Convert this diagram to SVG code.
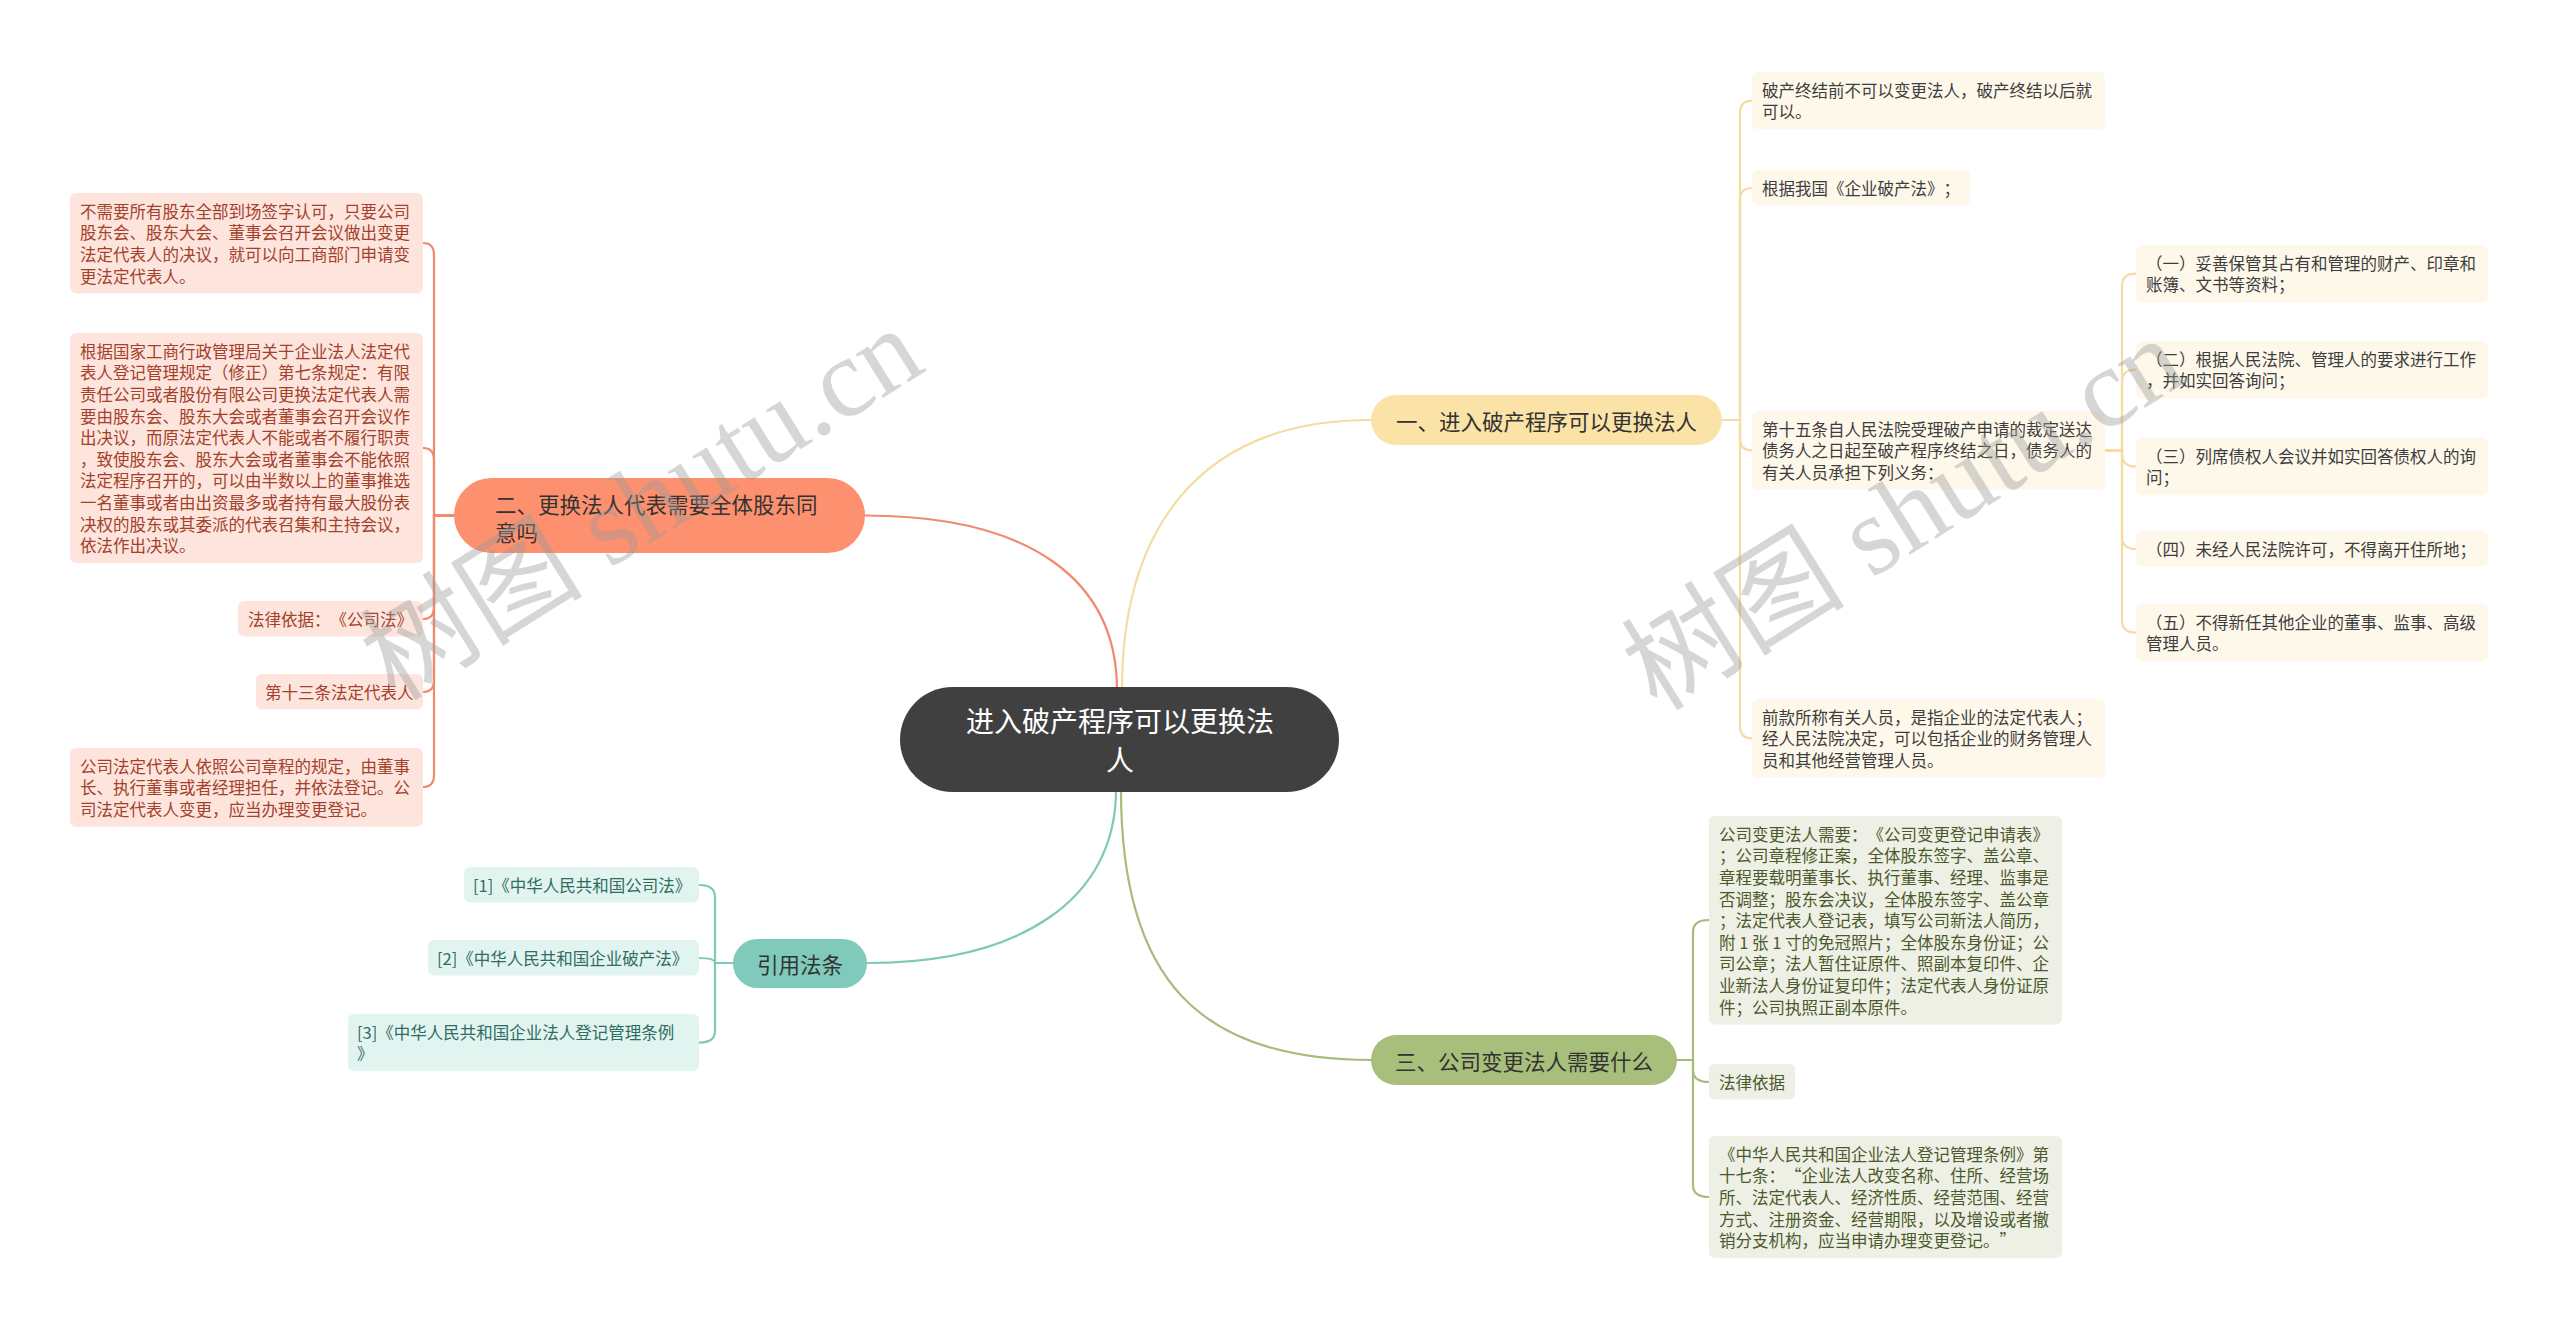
<svg xmlns="http://www.w3.org/2000/svg" width="2560" height="1333" viewBox="0 0 2560 1333">
<style>
text{font-family:"Noto Sans CJK SC","Noto Sans",sans-serif;dominant-baseline:central;text-spacing-trim:space-all}
.lf{font-size:16.5px}
.br{font-size:21.5px;fill:#333}
.c{fill:none;stroke-width:2.2;stroke-linecap:round}
.o{stroke:#ef8b6c}.y{stroke:#f4dca2}.t{stroke:#7fc9b9}.g{stroke:#a6bd7a}
.ob{fill:#fde5dd}.ot{fill:#a3412c}
.yb{fill:#fdf8ea}.yt{fill:#3d3d3d}
.tb{fill:#e2f4f0}.tt{fill:#2e6d60}
.gb{fill:#eef0e5}.gt{fill:#4b5a2c}
.wm{font-family:"Liberation Serif","Noto Sans CJK SC",serif;font-size:112px;fill:#9a9a9a;opacity:0.4;dominant-baseline:auto}
</style>
<rect width="2560" height="1333" fill="#ffffff"/>
<g id="connectors">
<path class="c y" d="M1122 690 C1122 540 1190 420 1371 420"/>
<path class="c o" d="M1117 690 C1117 580 1030 515.5 865 515.5"/>
<path class="c t" d="M1116 790 C1116 900 1020 963 867 963"/>
<path class="c g" d="M1121 790 C1121 980 1200 1060 1371 1060"/>
<path class="c o" d="M454 515.5 H434 V255 Q434 243 423 243"/>
<path class="c o" d="M454 515.5 H434 V460 Q434 448 423 448"/>
<path class="c o" d="M454 515.5 H434 V607 Q434 619 423 619"/>
<path class="c o" d="M454 515.5 H434 V680 Q434 692 423 692"/>
<path class="c o" d="M454 515.5 H434 V775 Q434 787 423 787"/>
<path class="c y" d="M1722 420 H1740 V113 Q1740 100.6 1752 100.6"/>
<path class="c y" d="M1722 420 H1740 V200 Q1740 188 1752 188"/>
<path class="c y" d="M1722 420 H1740 V438 Q1740 450.4 1752 450.4"/>
<path class="c y" d="M1722 420 H1740 V726 Q1740 738.4 1752 738.4"/>
<path class="c y" d="M2105 450.4 H2122 V286 Q2122 273.6 2136 273.6"/>
<path class="c y" d="M2105 450.4 H2122 V382 Q2122 369.6 2136 369.6"/>
<path class="c y" d="M2105 450.4 H2122 V454 Q2122 466.6 2136 466.6"/>
<path class="c y" d="M2105 450.4 H2122 V537 Q2122 549 2136 549"/>
<path class="c y" d="M2105 450.4 H2122 V620 Q2122 632.6 2136 632.6"/>
<path class="c g" d="M1677 1060 H1693 V932 Q1693 920 1709 920"/>
<path class="c g" d="M1677 1060 H1693 V1070 Q1693 1082 1709 1082"/>
<path class="c g" d="M1677 1060 H1693 V1185 Q1693 1197 1709 1197"/>
<path class="c t" d="M733 963 H715 V897 Q715 885 699 885"/>
<path class="c t" d="M733 963 H715 Q715 958 699 958"/>
<path class="c t" d="M733 963 H715 V1031 Q715 1042.6 699 1042.6"/>
</g>
<g id="root">
<rect x="900" y="687" width="439" height="105" rx="52.5" fill="#404040"/>
<text x="1120" y="720" font-size="28" fill="#ffffff" text-anchor="middle">进入破产程序可以更换法</text>
<text x="1120" y="759" font-size="28" fill="#ffffff" text-anchor="middle">人</text>
</g>
<g id="b1">
<rect x="1371" y="395" width="351" height="50" rx="25" fill="#fbe3a8"/>
<text class="br" x="1546.5" y="420" text-anchor="middle">一、进入破产程序可以更换法人</text>
</g>
<g id="b2">
<rect x="454" y="478" width="411" height="75" rx="37.5" fill="#fd916f"/>
<text class="br" x="495" y="503">二、更换法人代表需要全体股东同</text>
<text class="br" x="495" y="531">意吗</text>
</g>
<g id="b3">
<rect x="733" y="939" width="134" height="49" rx="24.5" fill="#7fcaba"/>
<text class="br" x="800" y="963.5" text-anchor="middle">引用法条</text>
</g>
<g id="b4">
<rect x="1371" y="1035" width="306" height="50" rx="25" fill="#a7bf7b"/>
<text class="br" x="1524" y="1060" text-anchor="middle">三、公司变更法人需要什么</text>
</g>
<g id="leafA">
<rect class="ob" x="70" y="193" width="353" height="100.4" rx="6"/>
<text class="lf ot" x="80"><tspan x="80" y="210.8">不需要所有股东全部到场签字认可，只要公司</tspan><tspan x="80" y="232.4">股东会、股东大会、董事会召开会议做出变更</tspan><tspan x="80" y="254">法定代表人的决议，就可以向工商部门申请变</tspan><tspan x="80" y="275.6">更法定代表人。</tspan></text>
</g>
<g id="leafB">
<rect class="ob" x="70" y="333" width="353" height="230" rx="6"/>
<text class="lf ot" x="80"><tspan x="80" y="350.8">根据国家工商行政管理局关于企业法人法定代</tspan><tspan x="80" y="372.4">表人登记管理规定（修正）第七条规定：有限</tspan><tspan x="80" y="394">责任公司或者股份有限公司更换法定代表人需</tspan><tspan x="80" y="415.6">要由股东会、股东大会或者董事会召开会议作</tspan><tspan x="80" y="437.2">出决议，而原法定代表人不能或者不履行职责</tspan><tspan x="80" y="458.8">，致使股东会、股东大会或者董事会不能依照</tspan><tspan x="80" y="480.4">法定程序召开的，可以由半数以上的董事推选</tspan><tspan x="80" y="502">一名董事或者由出资最多或者持有最大股份表</tspan><tspan x="80" y="523.6">决权的股东或其委派的代表召集和主持会议，</tspan><tspan x="80" y="545.2">依法作出决议。</tspan></text>
</g>
<g id="leafC">
<rect class="ob" x="238" y="601" width="185" height="35.6" rx="6"/>
<text class="lf ot" x="248" y="618.8">法律依据：《公司法》</text>
</g>
<g id="leafD">
<rect class="ob" x="256" y="674" width="167" height="35.6" rx="6"/>
<text class="lf ot" x="265" y="691.8">第十三条法定代表人</text>
</g>
<g id="leafE">
<rect class="ob" x="70" y="748" width="353" height="78.8" rx="6"/>
<text class="lf ot" x="80"><tspan x="80" y="765.8">公司法定代表人依照公司章程的规定，由董事</tspan><tspan x="80" y="787.4">长、执行董事或者经理担任，并依法登记。公</tspan><tspan x="80" y="809">司法定代表人变更，应当办理变更登记。</tspan></text>
</g>
<g id="L1">
<rect class="yb" x="1752" y="72" width="353" height="57.2" rx="6"/>
<text class="lf yt"><tspan x="1762" y="89.8">破产终结前不可以变更法人，破产终结以后就</tspan><tspan x="1762" y="111.4">可以。</tspan></text>
</g>
<g id="L2">
<rect class="yb" x="1752" y="170" width="218" height="35.6" rx="6"/>
<text class="lf yt" x="1762" y="187.8">根据我国《企业破产法》；</text>
</g>
<g id="L3">
<rect class="yb" x="1752" y="411" width="353" height="78.8" rx="6"/>
<text class="lf yt"><tspan x="1762" y="428.8">第十五条自人民法院受理破产申请的裁定送达</tspan><tspan x="1762" y="450.4">债务人之日起至破产程序终结之日，债务人的</tspan><tspan x="1762" y="472">有关人员承担下列义务：</tspan></text>
</g>
<g id="L4">
<rect class="yb" x="1752" y="699" width="353" height="78.8" rx="6"/>
<text class="lf yt"><tspan x="1762" y="716.8">前款所称有关人员，是指企业的法定代表人；</tspan><tspan x="1762" y="738.4">经人民法院决定，可以包括企业的财务管理人</tspan><tspan x="1762" y="760">员和其他经营管理人员。</tspan></text>
</g>
<g id="S1">
<rect class="yb" x="2136" y="245" width="352" height="57.2" rx="6"/>
<text class="lf yt"><tspan x="2146" y="262.8">（一）妥善保管其占有和管理的财产、印章和</tspan><tspan x="2146" y="284.4">账簿、文书等资料；</tspan></text>
</g>
<g id="S2">
<rect class="yb" x="2136" y="341" width="352" height="57.2" rx="6"/>
<text class="lf yt"><tspan x="2146" y="358.8">（二）根据人民法院、管理人的要求进行工作</tspan><tspan x="2146" y="380.4">，并如实回答询问；</tspan></text>
</g>
<g id="S3">
<rect class="yb" x="2136" y="438" width="352" height="57.2" rx="6"/>
<text class="lf yt"><tspan x="2146" y="455.8">（三）列席债权人会议并如实回答债权人的询</tspan><tspan x="2146" y="477.4">问；</tspan></text>
</g>
<g id="S4">
<rect class="yb" x="2136" y="531" width="352" height="35.6" rx="6"/>
<text class="lf yt" x="2146" y="548.8">（四）未经人民法院许可，不得离开住所地；</text>
</g>
<g id="S5">
<rect class="yb" x="2136" y="604" width="352" height="57.2" rx="6"/>
<text class="lf yt"><tspan x="2146" y="621.8">（五）不得新任其他企业的董事、监事、高级</tspan><tspan x="2146" y="643.4">管理人员。</tspan></text>
</g>
<g id="G1">
<rect class="gb" x="1709" y="816" width="353" height="208.4" rx="6"/>
<text class="lf gt"><tspan x="1719" y="833.8">公司变更法人需要：《公司变更登记申请表》</tspan><tspan x="1719" y="855.4">；公司章程修正案，全体股东签字、盖公章、</tspan><tspan x="1719" y="877">章程要载明董事长、执行董事、经理、监事是</tspan><tspan x="1719" y="898.6">否调整；股东会决议，全体股东签字、盖公章</tspan><tspan x="1719" y="920.2">；法定代表人登记表，填写公司新法人简历，</tspan><tspan x="1719" y="941.8">附 1 张 1 寸的免冠照片；全体股东身份证；公</tspan><tspan x="1719" y="963.4">司公章；法人暂住证原件、照副本复印件、企</tspan><tspan x="1719" y="985">业新法人身份证复印件；法定代表人身份证原</tspan><tspan x="1719" y="1006.6">件；公司执照正副本原件。</tspan></text>
</g>
<g id="G2">
<rect class="gb" x="1709" y="1064" width="86" height="35.6" rx="6"/>
<text class="lf gt" x="1719" y="1081.8">法律依据</text>
</g>
<g id="G3">
<rect class="gb" x="1709" y="1136" width="353" height="122" rx="6"/>
<text class="lf gt"><tspan x="1719" y="1153.8">《中华人民共和国企业法人登记管理条例》第</tspan><tspan x="1719" y="1175.4">十七条：“企业法人改变名称、住所、经营场</tspan><tspan x="1719" y="1197">所、法定代表人、经济性质、经营范围、经营</tspan><tspan x="1719" y="1218.6">方式、注册资金、经营期限，以及增设或者撤</tspan><tspan x="1719" y="1240.2">销分支机构，应当申请办理变更登记。”</tspan></text>
</g>
<g id="T1">
<rect class="tb" x="464" y="867" width="235" height="35.6" rx="6"/>
<text class="lf tt" x="473" y="884.8">[1]《中华人民共和国公司法》</text>
</g>
<g id="T2">
<rect class="tb" x="428" y="940" width="271" height="35.6" rx="6"/>
<text class="lf tt" x="437" y="957.8">[2]《中华人民共和国企业破产法》</text>
</g>
<g id="T3">
<rect class="tb" x="348" y="1014" width="351" height="57.2" rx="6"/>
<text class="lf tt"><tspan x="357" y="1031.8">[3]《中华人民共和国企业法人登记管理条例</tspan><tspan x="357" y="1053.4">》</tspan></text>
</g>
<g id="watermark">
<text class="wm" x="648" y="540" text-anchor="middle" transform="rotate(-32 648 514)">树图 shutu.cn</text>
<text class="wm" x="1910" y="550" text-anchor="middle" transform="rotate(-32 1910 524)">树图 shutu.cn</text>
</g>
</svg>
